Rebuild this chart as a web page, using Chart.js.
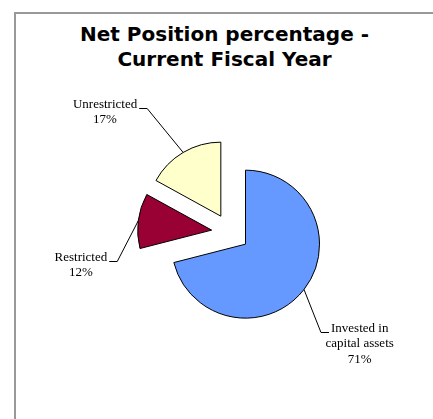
<!DOCTYPE html>
<html>
<head>
<meta charset="utf-8">
<script src="https://cdn.jsdelivr.net/npm/chart.js@4.4.1/dist/chart.umd.min.js"></script>
<style>
  html, body { margin: 0; padding: 0; background: #fff; overflow: hidden; }
  body { width: 433px; height: 419px; position: relative; }
  .frame { position: absolute; left: 14px; top: 12px; width: 600px; height: 600px; border-left: 2px solid #999; border-top: 2px solid #999; }
  .chart-title {
    position: absolute; left: 16px; top: 22px; width: 417px; margin: 0;
    font: bold 20px/25px "DejaVu Sans", sans-serif; color: #000; text-align: center;
  }
  .chart-box { position: absolute; left: 16px; top: 14px; width: 417px; height: 405px; }
</style>
</head>
<body>
<div class="frame"></div>
<h1 class="chart-title">Net Position percentage -<br>Current Fiscal Year</h1>
<div class="chart-box"><canvas id="netPositionChart"></canvas></div>
<script>
const categories = [['Invested in', 'capital assets'], ['Restricted'], ['Unrestricted']];
const shares = [71, 12, 17];
const sliceColors = ['#6699FF', '#990033', '#FFFFCC'];

// every slice is pulled out of the pie by the same distance (px)
const explodeBy = 19;

// leader elbow relative to the slice's outer mid point, and the side the text sits on
const leaders = [
  { dx: 17, dy: 42, side: 'right' },
  { dx: -21, dy: 40, side: 'left' },
  { dx: -36, dy: -44, side: 'left' }
];

const explodePlugin = {
  id: 'explode',
  afterDatasetUpdate(chart, args) {
    args.meta.data.forEach(arc => {
      const mid = (arc.startAngle + arc.endAngle) / 2;
      arc.x += Math.cos(mid) * explodeBy;
      arc.y += Math.sin(mid) * explodeBy;
    });
  }
};

// category name + percentage, joined to the slice by a bent leader line
const leaderLabels = {
  id: 'leaderLabels',
  afterDatasetsDraw(chart) {
    const ctx = chart.ctx;
    const meta = chart.getDatasetMeta(0);
    const total = shares.reduce((a, b) => a + b, 0);
    ctx.save();
    ctx.font = '13px "Liberation Serif", "Times New Roman", serif';
    ctx.fillStyle = '#000';
    ctx.strokeStyle = '#000';
    ctx.lineWidth = 1;
    ctx.textBaseline = 'middle';
    ctx.textAlign = 'center';
    meta.data.forEach((arc, i) => {
      const mid = (arc.startAngle + arc.endAngle) / 2;
      const px = arc.x + Math.cos(mid) * arc.outerRadius;
      const py = arc.y + Math.sin(mid) * arc.outerRadius;
      const l = leaders[i];
      const ex = px + l.dx;
      const ey = Math.round(py + l.dy) + 0.5;
      const dir = l.side === 'left' ? -1 : 1;
      const tx = ex + dir * 8;
      ctx.beginPath();
      ctx.moveTo(px, py);
      ctx.lineTo(ex, ey);
      ctx.lineTo(tx, ey);
      ctx.stroke();

      const lines = categories[i].concat(Math.round(shares[i] / total * 100) + '%');
      const w0 = ctx.measureText(lines[0]).width;
      const cx = tx + dir * (2 + w0 / 2);
      lines.forEach((t, k) => ctx.fillText(t, cx, ey - 4 + k * 15.5));
    });
    ctx.restore();
  }
};

new Chart(document.getElementById('netPositionChart'), {
  type: 'pie',
  data: {
    labels: categories.map(c => c.join(' ')),
    datasets: [{
      data: shares,
      backgroundColor: sliceColors,
      borderColor: '#000',
      borderWidth: 1,
      radius: 74
    }]
  },
  options: {
    responsive: true,
    maintainAspectRatio: false,
    animation: false,
    layout: { padding: { left: 12, right: 0, top: 66, bottom: 34 } },
    plugins: {
      legend: { display: false },
      tooltip: { enabled: false },
      title: { display: false }
    }
  },
  plugins: [explodePlugin, leaderLabels]
});
</script>
</body>
</html>
